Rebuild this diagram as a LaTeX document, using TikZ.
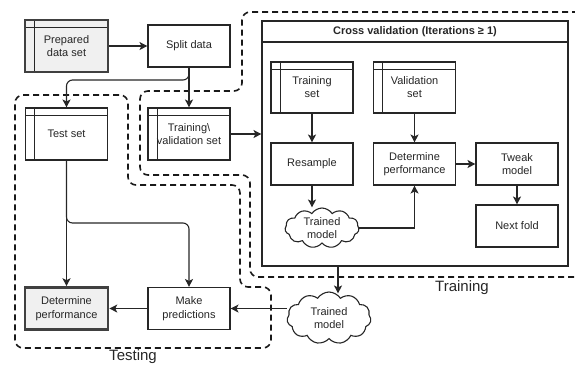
\documentclass[tikz,border=0pt]{standalone}
\usepackage{fontspec}
\setmainfont{Liberation Sans}
\usetikzlibrary{arrows.meta,shapes.symbols,calc}
\begin{document}
\begin{tikzpicture}[x=1pt,y=-1pt,
  font=\fontsize{11}{13.5}\selectfont,
  every node/.style={align=center, inner sep=0pt, text=black!85},
  ln/.style={draw=black!85, line width=1.1pt},
  box/.style={ln, fill=white, minimum width=82pt, minimum height=42pt},
  tbl/.style={box, minimum height=52pt,
    path picture={
      \draw[black!85,line width=0.9pt] ([yshift=-7pt]path picture bounding box.north west) -- ([yshift=-7pt]path picture bounding box.north east);
      \draw[black!85,line width=0.9pt] ([xshift=9pt]path picture bounding box.north west) -- ([xshift=9pt]path picture bounding box.south west);}},
  hv/.style={line width=2.6pt, draw=black!75, fill=black!6},
  cloudy/.style={ln, cloud, cloud puffs=11, cloud puff arc=115, aspect=1.9, fill=white, inner sep=0pt},
  arr/.style={ln, -{Stealth[length=8pt,width=8pt,inset=2pt]}},
  region/.style={draw=black!90, line width=1.6pt, dash pattern=on 6pt off 4pt, rounded corners=8pt},
  big/.style={font=\fontsize{15}{18}\selectfont}
]
\useasboundingbox (0,0) rectangle (575,365);
\clip (0,0) rectangle (575,365);

% dashed regions
\draw[region] (578,12) -- (242,12) -- (242,91) -- (140,91) -- (140,175) -- (250,175) -- (250,277) -- (578,277);
\draw[region] (15,95) -- (128,95) -- (128,185) -- (240,185) -- (240,287) -- (271,287) -- (271,348) -- (15,348) -- cycle;

% cross validation container
\node[ln, minimum width=306pt, minimum height=245pt] (cv) at (415,143.5) {};
\draw[ln] (262,42) -- (568,42);
\node[font=\fontsize{11}{13.5}\selectfont\bfseries] (cvt) at (415,32) {Cross validation (Iterations ≥ 1)};

% top-left
\node[tbl, hv, minimum width=83pt] (pd) at (66.5,46) {Prepared\\data set};
\node[box] (sd) at (189,46) {Split data};
\node[tbl] (ts) at (66.5,134) {Test set};
\node[tbl] (tv) at (189,134) {Training\textbackslash\\validation set};

% inside cross validation
\node[tbl, minimum height=51pt] (trs) at (312,87.5) {\\[-6pt]Training\\set};
\node[tbl, minimum height=51pt] (vs) at (414.5,87.5) {\\[-6pt]Validation\\set};
\node[box] (rs) at (312,164) {Resample};
\node[box] (dp) at (414.5,164) {Determine\\performance};
\node[box] (tw) at (517,164) {Tweak\\model};
\node[box] (nf) at (517,226) {Next fold};
\node[cloudy, minimum width=74pt, minimum height=40pt] (tmA) at (322,228) {Trained\\model};

% bottom
\node[cloudy, minimum width=84pt, minimum height=52pt] (tmB) at (329,318) {Trained\\model};
\node[box] (mp) at (189,308.5) {Make\\predictions};
\node[box, hv, minimum width=83pt] (dpo) at (66.5,308.5) {Determine\\performance};

% labels
\node[big] (lt) at (462,288) {Training};
\node[big] (lte) at (133,357) {Testing};

% connectors
\draw[arr] (pd) -- (sd);
\draw[arr, rounded corners=6pt] (sd.south) -- (sd.south |- 0,80) -| (ts.north);
\draw[arr] (sd.south) -- (tv.north);
\draw[arr] (tv.east) -- (tv.east -| cv.west);
\draw[arr] (trs.south) -- (rs.north);
\draw[arr] (vs.south) -- (dp.north);
\draw[arr] (dp.east) -- (tw.west);
\draw[arr] (tw.south) -- (nf.north);
\draw[arr] (rs.south) -- (rs.south |- tmA.north);
\draw[arr] (tmA.east) -| (dp.south);
\draw[arr] ([xshift=9pt]cv.south -| tmB.north) -- ([xshift=9pt,yshift=-2pt]tmB.north);
\draw[arr] (tmB.west |- mp.east) -- (mp.east);
\draw[arr] (mp.west) -- (dpo.east);
\draw[arr] (ts.south) -- (dpo.north);
\draw[arr, rounded corners=6pt] (ts.south) -- (ts.south |- 0,223) -| (mp.north);
\end{tikzpicture}
\end{document}
